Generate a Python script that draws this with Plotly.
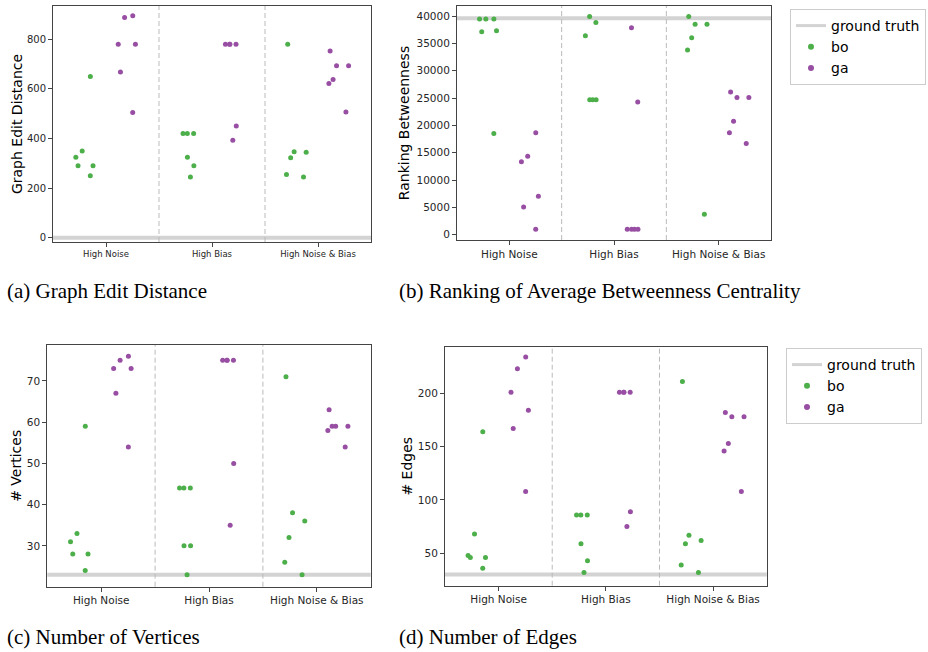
import plotly.graph_objects as go

categories = ["High Noise", "High Bias", "High Noise & Bias"]

# (a) Graph Edit Distance
ged_bo = [[650, 350, 325, 290, 290, 250],
          [420, 420, 420, 325, 290, 245],
          [780, 347, 345, 322, 255, 245]]
ged_ga = [[895, 888, 780, 780, 668, 505],
          [780, 780, 780, 780, 450, 393],
          [753, 693, 693, 638, 622, 507]]
ged_truth = 0

# (b) Ranking Betweenness
rb_bo = [[39450, 39450, 39450, 37300, 37100, 18500],
         [39900, 38800, 36400, 24700, 24700, 24700],
         [39900, 38500, 38500, 36000, 33800, 3750]]
rb_ga = [[18650, 14350, 13350, 7050, 5050, 1000],
         [37850, 24250, 1000, 1000, 1000, 1000],
         [26100, 25100, 25100, 20750, 18650, 16700]]
rb_truth = 39600

# (c) Number of Vertices
nv_bo = [[59, 33, 31, 28, 28, 24],
         [44, 44, 44, 30, 30, 23],
         [71, 38, 36, 32, 26, 23]]
nv_ga = [[76, 75, 73, 73, 67, 54],
         [75, 75, 75, 75, 50, 35],
         [63, 59, 59, 59, 58, 54]]
nv_truth = 23

# (d) Number of Edges
ne_bo = [[164, 68, 48, 46, 46, 36],
         [86, 86, 86, 59, 43, 32],
         [211, 67, 62, 59, 39, 32]]
ne_ga = [[234, 223, 201, 184, 167, 108],
         [201, 201, 201, 201, 89, 75],
         [182, 178, 178, 153, 146, 108]]
ne_truth = 30

captions = ["(a) Graph Edit Distance",
            "(b) Ranking of Average Betweenness Centrality",
            "(c) Number of Vertices",
            "(d) Number of Edges"]
ytitles = ["Graph Edit Distance", "Ranking Betweenness", "# Vertices", "# Edges"]

GREEN = "#4daf4a"
PURPLE = "#984ea3"
TRUTH = "#d3d3d3"
TXT = "#262626"
FRAME = "#444444"

panels = [
    dict(bo=ged_bo, ga=ged_ga, truth=ged_truth, yrange=[-17, 934], dtick=200, tick0=0,
         xdom=[53 / 928, 371 / 928], ydom=[1 - 242 / 652, 1 - 6 / 652], xfs=8.5, yfs=10, so=1),
    dict(bo=rb_bo, ga=rb_ga, truth=rb_truth, yrange=[-970, 41830], dtick=5000, tick0=0,
         xdom=[457 / 928, 771 / 928], ydom=[1 - 240 / 652, 1 - 6 / 652], xfs=10.5, yfs=10.5, so=3),
    dict(bo=nv_bo, ga=nv_ga, truth=nv_truth, yrange=[20.1, 78.7], dtick=10, tick0=30,
         xdom=[47.3 / 928, 370.7 / 928], ydom=[1 - 586.7 / 652, 1 - 345 / 652], xfs=10.5, yfs=10.5, so=1),
    dict(bo=ne_bo, ga=ne_ga, truth=ne_truth, yrange=[19.6, 243.7], dtick=50, tick0=50,
         xdom=[445 / 928, 766.7 / 928], ydom=[1 - 585.7 / 652, 1 - 346.7 / 652], xfs=10.5, yfs=10.5, so=1),
]

fig = go.Figure()
layout = dict(
    width=928, height=652,
    margin=dict(l=0, r=0, t=0, b=0, autoexpand=False),
    paper_bgcolor="white", plot_bgcolor="white",
    boxmode="group", boxgap=0.2, boxgroupgap=0.0,
    font=dict(family="DejaVu Sans", color=TXT),
    shapes=[], annotations=[],
)

for i, p in enumerate(panels):
    n = "" if i == 0 else str(i + 1)
    xa, ya = "x" + n, "y" + n
    for name, vals, col in (("bo", p["bo"], GREEN), ("ga", p["ga"], PURPLE)):
        xs, ys = [], []
        for c, vs in zip(categories, vals):
            xs += [c] * len(vs)
            ys += vs
        fig.add_trace(go.Box(
            x=xs, y=ys, name=name, offsetgroup=name, xaxis=xa, yaxis=ya,
            boxpoints="all", jitter=0.5, pointpos=0,
            fillcolor="rgba(0,0,0,0)", line=dict(width=0, color="rgba(0,0,0,0)"),
            marker=dict(color=col, size=5, line=dict(width=0)),
            showlegend=False, hoveron="points",
        ))
    layout["xaxis" + n] = dict(
        domain=p["xdom"], anchor=ya, type="category",
        categoryorder="array", categoryarray=categories, range=[-0.5, 2.5],
        showline=True, mirror=True, linecolor=FRAME, linewidth=1,
        ticks="outside", ticklen=4, tickcolor=FRAME, showgrid=False, zeroline=False,
        tickfont=dict(size=p["xfs"], color=TXT),
    )
    layout["yaxis" + n] = dict(
        domain=p["ydom"], anchor=xa, range=p["yrange"], dtick=p["dtick"], tick0=p["tick0"],
        tickformat="d",
        showline=True, mirror=True, linecolor=FRAME, linewidth=1,
        ticks="outside", ticklen=4, tickcolor=FRAME, showgrid=False, zeroline=False,
        tickfont=dict(size=p["yfs"], color=TXT),
        title=dict(text=ytitles[i], font=dict(size=14, color="black"), standoff=p["so"]),
    )
    # ground truth line
    layout["shapes"].append(dict(
        type="line", xref=xa + " domain", yref=ya, x0=0, x1=1, y0=p["truth"], y1=p["truth"],
        line=dict(color=TRUTH, width=4), layer="below"))
    # category separators
    for s in (0.5, 1.5):
        layout["shapes"].append(dict(
            type="line", xref=xa, yref=ya + " domain", x0=s, x1=s, y0=0, y1=1,
            line=dict(color="#bbbbbb", width=1, dash="5px,3px"), layer="below"))

# captions
cap_pos = [(5, 291), (397, 291), (5, 637), (397, 637)]
for txt, (cx, cy) in zip(captions, cap_pos):
    layout["annotations"].append(dict(
        text=txt, xref="paper", yref="paper", x=cx / 928, y=1 - cy / 652,
        xanchor="left", yanchor="middle", showarrow=False,
        font=dict(family="Liberation Serif", size=21, color="black")))

# legend dummy traces
for lg, xa, ya in (("legend", "x2", "y2"), ("legend2", "x4", "y4")):
    fig.add_trace(go.Scatter(x=[None], y=[None], mode="lines", name="ground truth",
                             line=dict(color=TRUTH, width=3), legend=lg, xaxis=xa, yaxis=ya))
    fig.add_trace(go.Scatter(x=[None], y=[None], mode="markers", name="bo",
                             marker=dict(color=GREEN, size=6), legend=lg, xaxis=xa, yaxis=ya))
    fig.add_trace(go.Scatter(x=[None], y=[None], mode="markers", name="ga",
                             marker=dict(color=PURPLE, size=6), legend=lg, xaxis=xa, yaxis=ya))

leg_common = dict(xanchor="left", yanchor="top", bgcolor="white", bordercolor="#cccccc",
                  borderwidth=1, font=dict(size=14, color="black"), tracegroupgap=0)
layout["legend"] = dict(x=790 / 928, y=1 - 9 / 652, **leg_common)
layout["legend2"] = dict(x=786 / 928, y=1 - 348 / 652, **leg_common)

fig.update_layout(**layout)
fig.write_html("out.html")
